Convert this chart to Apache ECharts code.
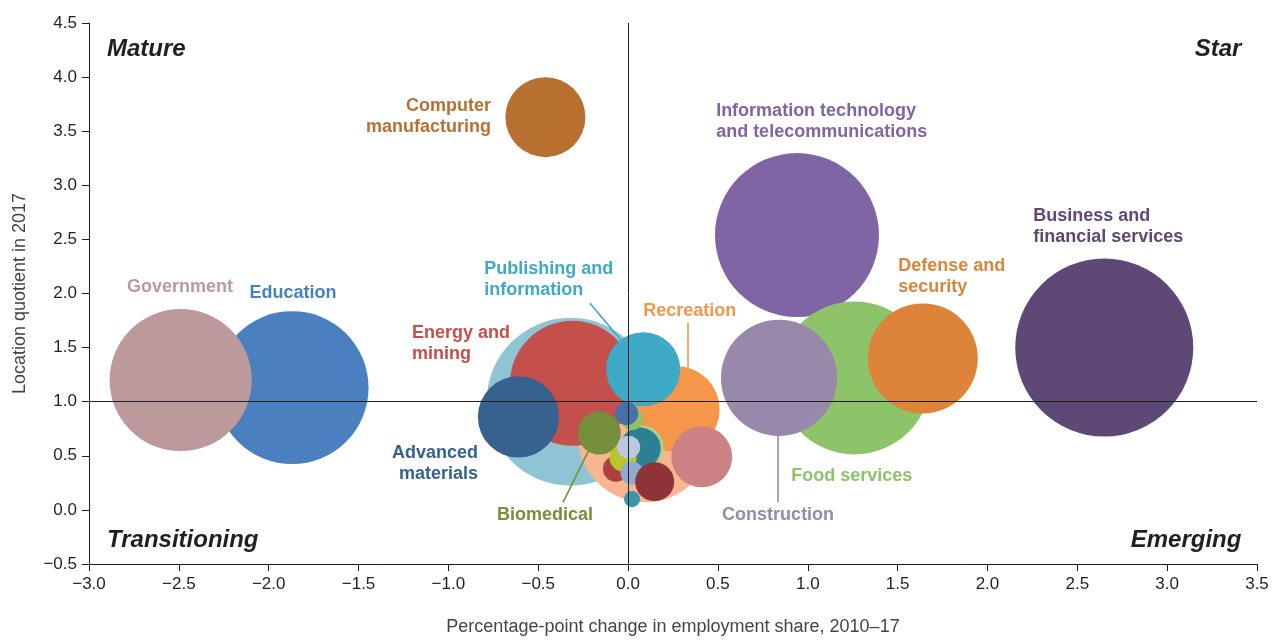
<!DOCTYPE html>
<html>
<head>
<meta charset="utf-8">
<title>Industry clusters</title>
<script src="https://cdn.jsdelivr.net/npm/echarts@6/dist/echarts.min.js"></script>
<style>
  html, body { margin: 0; padding: 0; background: #fff; }
  #chart { width: 1272px; height: 641px; }
</style>
</head>
<body>
<div id="chart"></div>
<script>
'use strict'
// 每个气泡：行业名称 / 就业份额变化 / 区位商 / 规模 / 颜色
var names = ['Business and financial services', 'Information technology and telecommunications', 'Food services', 'Education', 'Government',
    'Cluster A', 'Cluster B', 'Energy and mining', 'Construction', 'Defense and security',
    'Recreation', 'Advanced materials', 'Computer manufacturing', 'Publishing and information', 'Cluster C',
    'Biomedical', 'Cluster D', 'Cluster E', 'Cluster F', 'Cluster G',
    'Cluster H', 'Cluster I', 'Cluster J', 'Cluster K', 'Cluster L', 'Cluster M'];
var shareChange = [2.65, 0.94, 1.26, -1.87, -2.49,
    -0.32, 0.095, -0.31, 0.84, 1.64,
    0.27, -0.61, -0.46, 0.084, 0.41,
    -0.16, 0.078, 0.067, 0.022, -0.008,
    -0.067, -0.028, 0.003, 0.022, 0.148, 0.022];
var locQuotient = [1.50, 2.54, 1.22, 1.13, 1.20,
    1.00, 0.70, 1.17, 1.22, 1.40,
    0.93, 0.86, 3.63, 1.30, 0.49,
    0.71, 0.58, 0.57, 0.84, 0.89,
    0.38, 0.48, 0.58, 0.34, 0.26, 0.10];
var employment = [317, 269, 234, 234, 202,
    282, 185, 156, 135, 121,
    74, 66, 64, 55, 37,
    18.5, 18.5, 17, 4.8, 5.3,
    6.8, 7.3, 5.3, 5.3, 15.2, 2.6];
var colors = ['#5e4876', '#7f65a3', '#8dc46a', '#4a80c0', '#bc9a9c',
    '#8ec4d4', '#f7b690', '#c4504c', '#9889aa', '#dd843a',
    '#f5964a', '#37618f', '#b87030', '#3eaac6', '#cc8185',
    '#758f3c', '#a8d08e', '#2b8094', '#93c063', '#4472a8',
    '#ac3f3f', '#b8c62c', '#bcc6e0', '#92a9d4', '#8e3436', '#3a96ac'];

// 标签文字（数据坐标）
var labelText = ['Government', 'Education', 'Computer\nmanufacturing', 'Information technology\nand telecommunications',
    'Business and\nfinancial services', 'Defense and\nsecurity', 'Publishing and\ninformation', 'Recreation',
    'Energy and\nmining', 'Advanced\nmaterials', 'Biomedical', 'Food services', 'Construction'];
var labelX = [-2.494, -1.865, -0.763, 0.49, 2.255, 1.503, -0.80, 0.084, -1.203, -0.835, -0.462, 0.908, 0.835];
var labelY = [2.06, 2.00, 3.64, 3.59, 2.62, 2.16, 2.13, 1.84, 1.54, 0.43, -0.046, 0.31, -0.046];
var labelAlign = ['center', 'center', 'right', 'left', 'left', 'left', 'left', 'left', 'left', 'right', 'center', 'left', 'center'];
var labelColor = ['#bc9a9c', '#4a80c0', '#b87030', '#7f65a3', '#5e4876', '#dd843a', '#3eaac6', '#f5964a',
    '#c4504c', '#37618f', '#758f3c', '#8dc46a', '#9889aa'];

// 引线
var leaders = [
    [[-0.212, 1.91], [-0.025, 1.54], '#3eaac6'],
    [[0.334, 1.73], [0.334, 1.28], '#f5964a'],
    [[-0.213, 0.57], [-0.362, 0.07], '#758f3c'],
    [[0.835, 0.72], [0.835, 0.07], '#9889aa']
];

// 象限
var quadText = ['Mature', 'Star', 'Transitioning', 'Emerging'];
var quadX = [-2.90, 3.413, -2.90, 3.413];
var quadY = [4.26, 4.26, -0.285, -0.285];
var quadAlign = ['left', 'right', 'left', 'right'];

var xTicks = { min: -3, max: 3.5, interval: 0.5 };
var yTicks = { min: -0.5, max: 4.5, interval: 0.5 };

function fmt(v) {
    return v.toFixed(1).replace('-', '\u2212');
}

initChart();
function initChart() {
    var chart = echarts.init(document.getElementById('chart'), null, { renderer: 'canvas' });
    var font = '"Liberation Sans", Arial, Helvetica, sans-serif';

    var bubbles = [];
    for (var i = 0; i < names.length; i++) {
        bubbles.push({
            name: names[i],
            value: [shareChange[i], locQuotient[i], employment[i]],
            itemStyle: { color: colors[i] }
        });
    }
    var labels = [];
    for (var j = 0; j < labelText.length; j++) {
        labels.push({
            value: [labelX[j], labelY[j]],
            label: { formatter: labelText[j], color: labelColor[j], align: labelAlign[j] }
        });
    }
    var quads = [];
    for (var k = 0; k < quadText.length; k++) {
        quads.push({
            value: [quadX[k], quadY[k]],
            label: { formatter: quadText[k], align: quadAlign[k] }
        });
    }
    // 象限分隔线 + 引线
    var lineData = [{ xAxis: 0 }, { yAxis: 1 }];
    leaders.forEach(function (l) {
        lineData.push([
            { coord: l[0], lineStyle: { color: l[2], width: 1.6, type: 'solid' } },
            { coord: l[1] }
        ]);
    });

    var option = {
        animation: false,
        backgroundColor: '#ffffff',
        textStyle: { fontFamily: font },
        grid: { left: 89, right: 15, top: 23, bottom: 73, containLabel: false },
        xAxis: {
            type: 'value',
            min: xTicks.min, max: xTicks.max, interval: xTicks.interval,
            name: 'Percentage-point change in employment share, 2010\u201317',
            nameLocation: 'middle', nameGap: 54,
            nameTextStyle: { fontSize: 18, color: '#444', fontFamily: font },
            axisLine: { show: true, onZero: false, lineStyle: { color: '#231f20', width: 1 } },
            axisTick: { show: true, length: 7, lineStyle: { color: '#231f20' } },
            axisLabel: { fontSize: 17, color: '#231f20', margin: 12, formatter: fmt, fontFamily: font },
            splitLine: { show: false }
        },
        yAxis: {
            type: 'value',
            min: yTicks.min, max: yTicks.max, interval: yTicks.interval,
            name: 'Location quotient in 2017',
            nameLocation: 'middle', nameGap: 60,
            nameTextStyle: { fontSize: 18, color: '#444', fontFamily: font },
            axisLine: { show: true, onZero: false, lineStyle: { color: '#231f20', width: 1 } },
            axisTick: { show: true, length: 7, lineStyle: { color: '#231f20' } },
            axisLabel: { fontSize: 17, color: '#231f20', margin: 12, formatter: fmt, fontFamily: font },
            splitLine: { show: false }
        },
        series: [
            {
                type: 'scatter',
                z: 1,
                data: [],
                silent: true,
                markLine: {
                    silent: true,
                    symbol: ['none', 'none'],
                    label: { show: false },
                    lineStyle: { color: '#231f20', width: 1, type: 'solid' },
                    emphasis: { disabled: true },
                    data: lineData
                }
            },
            {
                type: 'scatter',
                z: 2,
                silent: true,
                symbolSize: function (val) {
                    return Math.sqrt(val[2]) * 10;
                },
                itemStyle: { opacity: 1 },
                emphasis: { disabled: true },
                data: bubbles
            },
            {
                type: 'scatter',
                z: 3,
                silent: true,
                symbolSize: 1,
                itemStyle: { color: 'rgba(0,0,0,0)', opacity: 1 },
                label: {
                    show: true, position: 'inside', verticalAlign: 'middle',
                    fontSize: 18, fontWeight: 'bold', lineHeight: 21, fontFamily: font
                },
                labelLayout: { hideOverlap: false },
                emphasis: { disabled: true },
                data: labels
            },
            {
                type: 'scatter',
                z: 3,
                silent: true,
                symbolSize: 1,
                itemStyle: { color: 'rgba(0,0,0,0)', opacity: 1 },
                label: {
                    show: true, position: 'inside', verticalAlign: 'middle',
                    fontSize: 24, fontWeight: 'bold', fontStyle: 'italic', color: '#231f20', fontFamily: font
                },
                labelLayout: { hideOverlap: false },
                emphasis: { disabled: true },
                data: quads
            }
        ]
    };
    chart.setOption(option);
    window.onresize = chart.resize;
}
</script>
</body>
</html>
